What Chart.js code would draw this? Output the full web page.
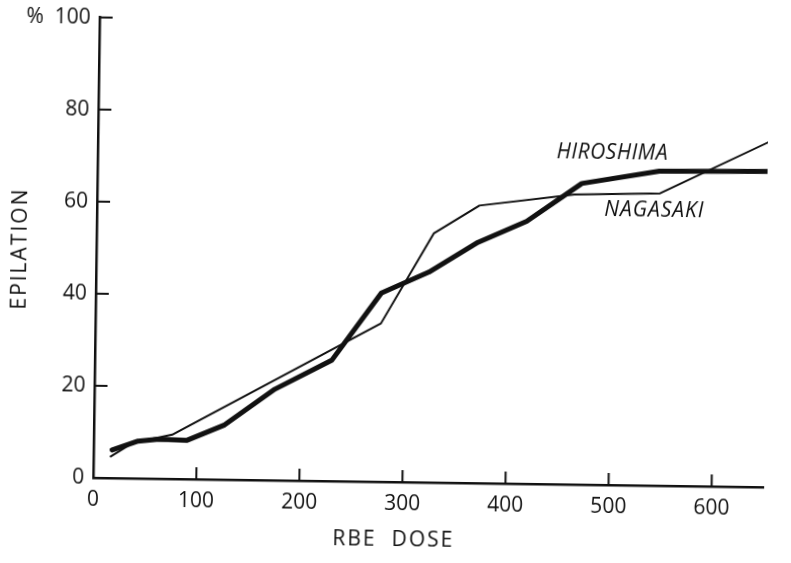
<!DOCTYPE html>
<html>
<head>
<meta charset="utf-8">
<script src="https://cdn.jsdelivr.net/npm/chart.js@4/dist/chart.umd.min.js"></script>
<style>
  html, body { margin: 0; padding: 0; background: #ffffff; overflow: hidden; }
  #wrap { width: 791px; height: 563px; }
  /* the printed figure sits slightly tilted on the page */
  #fig { display: block; transform: rotate(0.8deg); transform-origin: 50% 50%; }
</style>
</head>
<body>
<div id="wrap"><canvas id="fig" width="791" height="563"></canvas></div>
<script>
// Epilation (%) against RBE dose, Hiroshima and Nagasaki survivors
const doseTicks = [0, 100, 200, 300, 400, 500, 600];
const epilationTicks = [0, 20, 40, 60, 80, 100];

const hiroshimaDose = [18, 43, 63, 90, 126, 175, 230, 277, 323, 370, 417, 470, 545, 652];
const hiroshimaPct  = [6.1, 8.1, 8.6, 8.4, 11.8, 19.8, 26.3, 41.0, 45.7, 52.3, 57.0, 65.4, 68.3, 68.6];

const nagasakiDose = [16, 40, 62, 76, 277, 327, 371, 463, 546, 652];
const nagasakiPct  = [4.6, 8.0, 8.9, 9.6, 34.4, 54.1, 60.3, 63.0, 63.5, 75.1];

const seriesNames = ['HIROSHIMA', 'NAGASAKI'];
const xTitle = 'RBE DOSE';
const yTitle = 'EPILATION';

const INK = '#111111';
const FONT = '"Open Sans", "DejaVu Sans", sans-serif';

const toPoints = (xs, ys) => xs.map((v, i) => ({ x: v, y: ys[i] }));

// axis titles, inward tick marks and the curve names
const decor = {
  id: 'decor',
  afterDraw(chart) {
    const { ctx, chartArea: a, scales: { x, y } } = chart;
    ctx.save();
    ctx.strokeStyle = INK;
    ctx.lineWidth = 2;
    ctx.lineCap = 'butt';
    doseTicks.forEach(v => {
      if (v === 0) return;
      const px = x.getPixelForValue(v);
      ctx.beginPath(); ctx.moveTo(px, a.bottom); ctx.lineTo(px, a.bottom - 12); ctx.stroke();
    });
    epilationTicks.forEach(v => {
      if (v === 0) return;
      const py = y.getPixelForValue(v);
      ctx.beginPath(); ctx.moveTo(a.left, py); ctx.lineTo(a.left + 13, py); ctx.stroke();
    });

    ctx.fillStyle = INK;
    ctx.textBaseline = 'middle';

    // x-axis title
    ctx.font = `21px ${FONT}`;
    ctx.letterSpacing = '2px';
    ctx.textAlign = 'center';
    ctx.fillText(xTitle.replace(' ', '  '), x.getPixelForValue(292), a.bottom + 58);

    // y-axis title, reading upward
    ctx.save();
    ctx.translate(20, a.top + (a.bottom - a.top) / 2 + 2);
    ctx.rotate(-Math.PI / 2);
    ctx.letterSpacing = '2px';
    ctx.fillText(yTitle, 0, 0);
    ctx.restore();

    // curve names
    ctx.font = `italic 21px ${FONT}`;
    ctx.textAlign = 'left';
    ctx.letterSpacing = '0.5px';
    ctx.fillText(seriesNames[0], x.getPixelForValue(445), y.getPixelForValue(72.2));
    ctx.letterSpacing = '1px';
    ctx.fillText(seriesNames[1], x.getPixelForValue(492), y.getPixelForValue(59.8));
    ctx.restore();
  }
};

new Chart(document.getElementById('fig'), {
  type: 'line',
  data: {
    datasets: [
      {
        label: seriesNames[0],
        data: toPoints(hiroshimaDose, hiroshimaPct),
        borderColor: INK,
        borderWidth: 5,
        pointRadius: 0,
        tension: 0,
        borderJoinStyle: 'round',
        borderCapStyle: 'round',
        fill: false
      },
      {
        label: seriesNames[1],
        data: toPoints(nagasakiDose, nagasakiPct),
        borderColor: INK,
        borderWidth: 2,
        pointRadius: 0,
        tension: 0,
        borderJoinStyle: 'round',
        fill: false
      }
    ]
  },
  options: {
    responsive: false,
    animation: false,
    events: [],
    layout: { padding: { top: 21, right: 25, left: 0, bottom: 0 } },
    plugins: { legend: { display: false }, tooltip: { enabled: false } },
    scales: {
      x: {
        type: 'linear',
        min: 0,
        max: 650,
        afterFit(s) { s.height = 81; },
        afterBuildTicks(s) { s.ticks = doseTicks.map(v => ({ value: v })); },
        grid: { display: false, drawTicks: false },
        border: { display: true, color: INK, width: 2.5 },
        ticks: {
          autoSkip: false, maxRotation: 0, padding: 9,
          color: INK, font: { family: FONT, size: 21 }
        }
      },
      y: {
        type: 'linear',
        min: 0,
        max: 100,
        afterFit(s) { s.width = 96; },
        afterBuildTicks(s) { s.ticks = epilationTicks.map(v => ({ value: v })); },
        grid: { display: false, drawTicks: false },
        border: { display: true, color: INK, width: 2.5 },
        ticks: {
          autoSkip: false, padding: 9,
          color: INK, font: { family: FONT, size: 21 },
          callback: v => (v === 100 ? '%  100' : String(v))
        }
      }
    }
  },
  plugins: [decor]
});
</script>
</body>
</html>
